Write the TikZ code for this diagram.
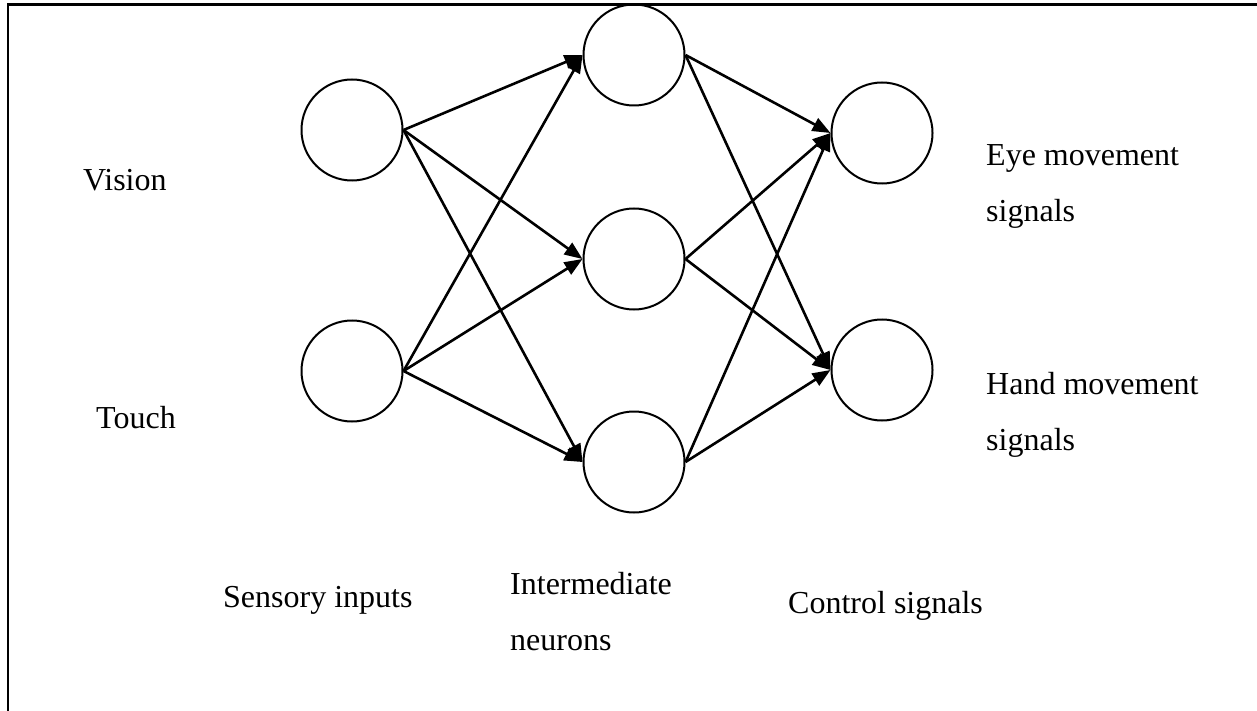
\documentclass[tikz,border=0pt]{standalone}
\usepackage{fontspec}
\setmainfont{Liberation Serif}
\usetikzlibrary{arrows.meta}
\begin{document}
\begin{tikzpicture}[x=1pt,y=-1pt,
  neuron/.style={circle,draw,line width=2pt,minimum size=101pt,inner sep=0pt},
  link/.style={line width=2.6pt,-{Triangle[length=18pt,width=14pt]}},
  lbl/.style={anchor=base west,inner sep=0pt,font=\fontsize{32}{38}\selectfont},
  frame/.style={line width=2.2pt}]
\useasboundingbox (0,0) rectangle (1257,711);
% partial frame (top and left edges)
\coordinate (fTR) at (1257,4.5);
\coordinate (fTL) at (8.3,4.5);
\coordinate (fBL) at (8.3,711);
\draw[frame] (fTR) -- (fTL) -- (fBL);

% sensory neurons
\node[neuron] (vis) at (352,130) {};
\node[neuron] (tou) at (352,371) {};
% intermediate neurons
\node[neuron] (m1) at (634,55) {};
\node[neuron] (m2) at (634,259) {};
\node[neuron] (m3) at (634,462) {};
% motor outputs
\node[neuron] (eye) at (882,133) {};
\node[neuron] (hand) at (882,370) {};

% connections: input -> intermediate
\foreach \s in {vis,tou}
  \foreach \t in {m1,m2,m3}
    \draw[link] (\s.east) -- (\t.west);
% connections: intermediate -> output
\foreach \s in {m1,m2,m3}
  \foreach \t in {eye,hand}
    \draw[link] (\s.east) -- (\t.west);

% labels
\node[lbl] (tVision) at (83,191) {Vision};
\node[lbl] (tTouch) at (96,428) {Touch};
\node[lbl] (tEyeA) at (986,166) {Eye movement};
\node[lbl] (tEyeB) at (986,222) {signals};
\node[lbl] (tHandA) at (986,394) {Hand movement};
\node[lbl] (tHandB) at (986,450) {signals};
\node[lbl] (tSens) at (223,607) {Sensory inputs};
\node[lbl] (tInterA) at (510,594) {Intermediate};
\node[lbl] (tInterB) at (510,650) {neurons};
\node[lbl] (tCtrl) at (788,613) {Control signals};
\end{tikzpicture}
\end{document}
